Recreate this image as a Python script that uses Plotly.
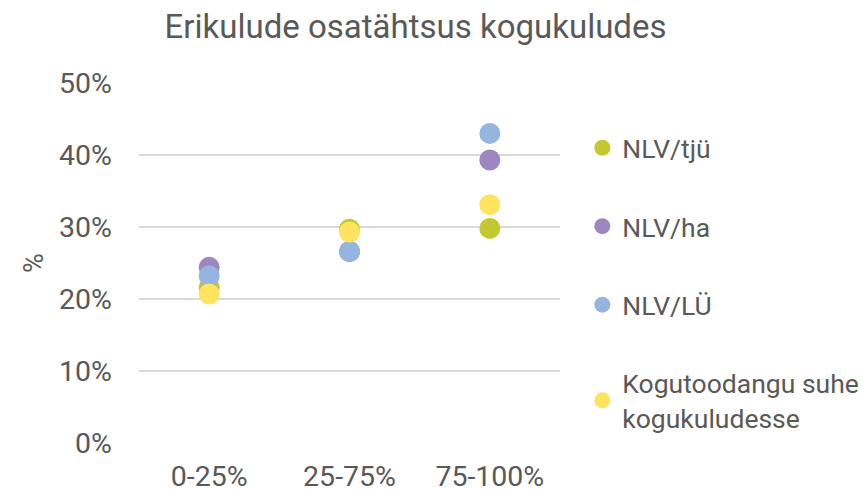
import plotly.graph_objects as go

categories = ["0-25%", "25-75%", "75-100%"]
series_names = ["NLV/tjü", "NLV/ha", "NLV/LÜ", "Kogutoodangu suhe<br>kogukuludesse"]
nlv_tju = [21.6, 29.7, 29.8]
nlv_ha = [24.4, 26.6, 39.3]
nlv_lu = [23.2, 26.6, 43.0]
kogutoodang = [20.7, 29.3, 33.1]
colors = ["#c3c82e", "#9e87c0", "#95b5e0", "#fde35e"]
y_ticks = [0, 10, 20, 30, 40, 50]
y_tick_labels = ["0%", "10%", "20%", "30%", "40%", "50%"]

fig = go.Figure()
for i, (name, vals) in enumerate(zip(series_names, [nlv_tju, nlv_ha, nlv_lu, kogutoodang])):
    fig.add_trace(go.Scatter(
        x=categories, y=vals, mode="markers", name=name,
        legendgroup=str(i),
        marker=dict(color=colors[i], size=21, line=dict(width=0)),
    ))

# The page body adds an 8px offset, so the figure is sized/positioned to compensate.
fig.update_layout(
    width=858, height=483,
    paper_bgcolor="white", plot_bgcolor="white",
    font=dict(family="Roboto", color="#595959", size=28.5),
    title=dict(text="Erikulude osatähtsus kogukuludes", x=0.475, xanchor="center",
               xref="container", yref="container",
               y=0.961, yanchor="middle", font=dict(size=33, color="#595959")),
    margin=dict(l=131, r=306, t=75, b=48, autoexpand=False),
    showlegend=True,
    legend=dict(x=1.053, xanchor="left", y=0.886, yanchor="top",
                tracegroupgap=41, font=dict(size=26.5, color="#595959"),
                itemwidth=30, bgcolor="rgba(0,0,0,0)"),
    xaxis=dict(type="category", showgrid=False, showline=False, ticks="",
               tickfont=dict(size=28.5), range=[-0.5, 2.5], ticklabelstandoff=13,
               automargin=False),
    yaxis=dict(range=[0, 50], tickvals=y_ticks, ticktext=y_tick_labels,
               showgrid=True, gridcolor="#d9d9d9", gridwidth=1.5, zeroline=False,
               showline=False, ticks="", tickfont=dict(size=28.5), ticklabelstandoff=26,
               automargin=False,
               title=dict(text="%", font=dict(size=27), standoff=7)),
)
fig.update_traces(cliponaxis=False)

fig.write_html("out.html")
